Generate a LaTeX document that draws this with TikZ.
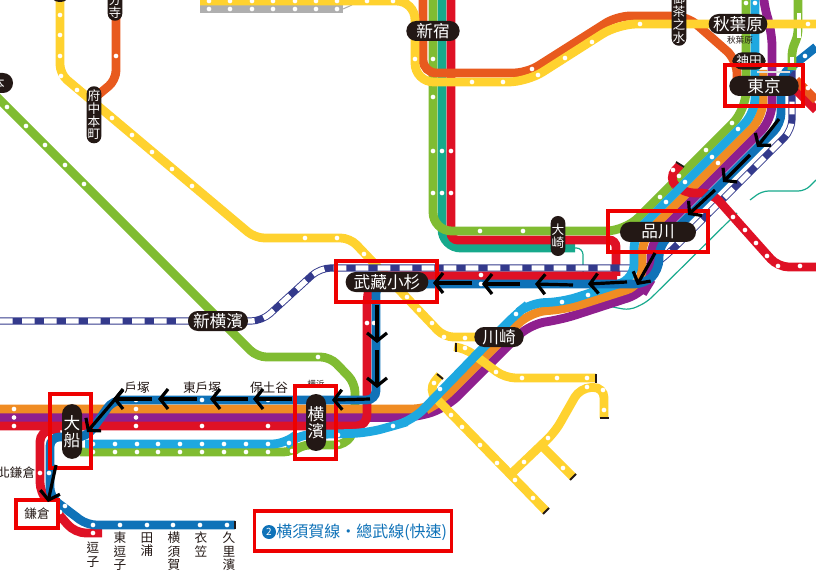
\documentclass[tikz,border=0pt]{standalone}
\usepackage{fontspec}
\setmainfont{Noto Sans CJK TC}
\usetikzlibrary{arrows.meta}
\definecolor{cpill}{HTML}{231815}
\definecolor{cgreen}{HTML}{80BC32}
\definecolor{cteal}{HTML}{17A98C}
\definecolor{cred}{HTML}{DF1125}
\definecolor{cyel}{HTML}{FFD22F}
\definecolor{coro}{HTML}{E85A1E}
\definecolor{corg}{HTML}{F08C23}
\definecolor{cpur}{HTML}{8F1F8E}
\definecolor{cblu}{HTML}{0F72B8}
\definecolor{clb}{HTML}{1FA8E0}
\definecolor{cnav}{HTML}{343A8C}
\definecolor{cgry}{HTML}{AFAFAF}
\definecolor{cbox}{HTML}{EE0000}
\newcommand{\fs}[1]{\fontsize{#1}{#1}\selectfont}
\newcommand{\fsb}[2]{\fontsize{#1}{#2}\selectfont}
\tikzset{
 rail/.style={line width=6.6pt,rounded corners=7pt},
 thinrail/.style={line width=0.9pt,draw=cteal,rounded corners=5pt},
 pill/.style={fill=cpill,text=white,rounded corners=7.4pt,inner sep=0pt,align=center},
 hpill/.style={pill,minimum height=15pt,font=\fs{12.5}},
 vpill/.style={pill,font=\fsb{12.5}{13}},
 vpills/.style={pill,minimum width=11pt,rounded corners=5.4pt,font=\fsb{9.5}{9.6}},
 lab/.style={text=cpill,inner sep=0pt,font=\fs{9.5}},
 vlab/.style={text=cpill,inner sep=0pt,align=center,font=\fsb{9.5}{10},anchor=north},
 redbox/.style={draw=cbox,line width=2.4pt},
 route/.style={draw=black,line width=2.4pt,-{Straight Barb[length=6pt,width=15pt,line width=2.4pt]}},
 capb/.style={draw=cpill,line width=1.4pt},
}
\newcommand{\wdots}[1]{\foreach \p in {#1}{\fill[white] \p circle (1.75pt);}}
\begin{document}
\begin{tikzpicture}[x=0.75pt,y=-0.75pt]
\useasboundingbox (0,0) rectangle (816,573);
% thin teal
\draw[thinrail] (573,248) -- (583,248) -- (583,277) -- (600,304) -- (617,308) -- (630,310) -- (647,302) -- (737,213);
\draw[thinrail] (750,200) -- (762,191) -- (805,191) -- (816,180);
% top gray and yellow
\draw[rail,cgry,line width=6.6pt] (200,9) -- (343,9);
\draw[cgry,line width=.8pt] (343,9) -- (352,5);
% Saikyo / teal, red, green
\draw[rail,cteal,rounded corners=14pt] (442,0) -- (442,248) -- (575,248);
\draw[rail,cred,rounded corners=5pt] (451,0) -- (451,240) -- (616,240) -- (616,276);
\draw[rail,cgreen,rounded corners=14pt] (433,0) -- (433,231) -- (625,231) -- (746,110) -- (746,0);
% Nambu etc
\draw[rail,cyel] (60,0) -- (60,74) -- (255,238) -- (350,238) -- (444,337) -- (480,337);
\draw[rail,cgreen] (-5,95) -- (257,357) -- (330,357) -- (355,383) -- (355,430) -- (345,445) -- (300,445) -- (293,452) -- (80,452);
\draw[rail,coro] (116,0) -- (116,80) -- (98,95);
% navy
\draw[line width=5.4pt,cnav,rounded corners=8pt] (0,321) -- (262,321) -- (320,268) -- (650,268) -- (668,254) -- (792,130) -- (792,70);
\draw[line width=4pt,white,dash pattern=on 9.5pt off 7pt,rounded corners=8pt] (0,321) -- (262,321) -- (320,268) -- (650,268) -- (668,254) -- (792,130) -- (792,70);
% purple, orange, red, blue trunk
\draw[rail,cpur,rounded corners=12pt] (0,417.5) -- (417,417.5) -- (447,407) -- (530,324) -- (560,320) -- (643,293) -- (651,280) -- (651,241) -- (772,120) -- (772,30) -- (763,5) -- (763,-5);
\draw[rail,corg,rounded corners=12pt] (0,409) -- (428,409) -- (440,402) -- (530,312) -- (567,309) -- (642,285) -- (642,238) -- (763,117) -- (763,70);
\draw[rail,cred,rounded corners=8pt] (0,426) -- (367,426) -- (367,295) -- (372,276) -- (617,276);
\draw[rail,cred,rounded corners=8pt] (60,429) -- (40,431) -- (40,493) -- (75,533) -- (102,533);
\draw[rail,cred,rounded corners=8pt] (680,165) -- (668,178) -- (683,193) -- (712,193) -- (778,267) -- (816,267);
\draw[rail,cred] (796,90) -- (816,110);
\draw[rail,coro] (796,80) -- (816,100);
% yellow lower group
\draw[rail,cyel,rounded corners=8pt] (456,347) -- (465,348) -- (505,378) -- (596,378);
\draw[rail,cyel,rounded corners=8pt] (440,375) -- (428,390) -- (546,511);
\draw[rail,cyel,rounded corners=8pt] (512,473) -- (555,432) -- (580,388) -- (604,387) -- (604,418);
\draw[rail,cyel] (543,447) -- (573,477);
% light blue
\draw[rail,clb,rounded corners=11pt] (85,444) -- (287,444) -- (296,435) -- (367,433) -- (393,426) -- (413,420) -- (516,314) -- (530,303) -- (562,302) -- (634,279) -- (634,234) -- (755,113) -- (755,-5);
% blue
\draw[rail,cblu,rounded corners=8pt] (392,284) -- (645,284) -- (659,270) -- (659,246) -- (781,124) -- (781,75) -- (816,47);
\draw[rail,cblu,rounded corners=7pt] (400,284) -- (376,284) -- (376,400) -- (113,400) -- (87,437) -- (50,437) -- (50,497) -- (87,525) -- (235,525);
% top-side green with its white bars
\draw[rail,cgreen,rounded corners=4pt] (798,-5) -- (798,35) -- (792,50) -- (792,70);
\draw[white,line width=2.4pt] (799,13) -- (799,38);
\draw[white,line width=2.4pt] (792,57) -- (792,67);
\draw[cgry!40,line width=2pt] (757,72) -- (790,72);
% chuo
\draw[rail,coro,rounded corners=10pt] (423,-5) -- (423,73) -- (527,73) -- (617,16) -- (687,16) -- (737,60) -- (737,80);
\draw[rail,cyel,rounded corners=14pt] (200,1) -- (415,1) -- (415,82) -- (527,82) -- (618,24) -- (816,24);
% caps
\draw[capb] (235,521) -- (235,529);
\draw[capb] (676,162) -- (684,167);
\draw[capb] (437,374) -- (443,379);
\draw[capb] (456,343) -- (456,352);
\draw[capb] (596,374) -- (596,383);
\draw[capb] (600,418) -- (609,418);
\draw[capb] (543,514) -- (549,508);
\draw[capb] (570,480) -- (576,474);
% dots
\wdots{(209,1),(230,1),(252,1),(273,1),(295,1),(316,1),(337,1),(367,1),(393,1),(209,9),(230,9),(252,9),(273,9),(295,9),(316,9),(337,9)}
\wdots{(60,15),(60,35),(60,56),(61,76),(77,90),(112,118),(132,135),(152,152),(172,169),(192,186),(305,238),(337,238),(364,254),(407,297),(419,310),(432,323),(444,337),(465,338),(465,348),(496,372),(522,378),(557,378),(587,378),(587,387),(603,390),(604,410),(434,383),(451,415),(462,427),(480,445),(497,463),(515,480),(533,498),(563,468),(524,462),(548,438)}
\wdots{(116,56),(7,107),(26,126),(45,145),(65,165),(84,184),(318,357)}
\wdots{(415,59),(433,59),(433,97),(433,151),(442,151),(451,151),(433,193),(442,193),(451,193),(480,231),(523,231),(472,82),(503,82),(538,75),(532,69),(565,58),(592,42),(640,24),(808,24)}
\wdots{(746,3),(755,3),(805,56),(732,123),(706,150),(679,176),(660,197),(738,129),(712,157),(685,182),(666,202),(718,163),(673,170),(733,217),(745,230),(756,243),(767,256),(778,266),(800,266),(808,88)}
\wdots{(562,302),(588,295),(516,314),(440,389),(393,426),(338,435),(338,444),(289,443),(292,451),(481,284),(481,275),(367,323),(374,323)}
\wdots{(14,409),(14,417.5),(14,426),(136,400),(136,409),(136,417.5),(136,426),(202,400),(202,426),(268,400),(268,426)}
\wdots{(93,444),(115,444),(137,444),(158,444),(180,444),(202,444),(224,444),(246,444),(268,444),(93,452),(115,452),(137,452),(158,452),(180,452),(202,452),(224,452),(246,452),(268,452)}
\wdots{(40,473),(49,473),(65,506),(60,512),(93,533),(93,525),(120,525),(147,525),(173,525),(200,525),(227,525)}
% pale station labels
\node[lab,font=\fs{6.5}] (akibasub) at (740,40) {秋葉原};
\node[lab,font=\fs{6.5}] (yokosub) at (316,384) {横浜};
% pills
\node[pill,minimum width=15pt,minimum height=15pt,rounded corners=7pt] (topa) at (60,-8) {};
\node[pill,minimum width=22.5pt,minimum height=15pt,font=\fs{10}] (moto) at (-2,83) {本};
\node[vpills,anchor=south,inner ysep=1.5pt] (koku) at (115,21) {分\\寺};
\node[vpills,text width=11pt,anchor=north,inner ysep=2.6pt] (fuchu) at (94,86) {府\\中\\本\\町};
\node[vpills,anchor=south,inner ysep=2pt] (ocha) at (679,46) {御\\茶\\之\\水};
\node[vpills,text width=11pt,minimum height=30pt] (osaki) at (558,236) {大\\崎};
\node[hpill,minimum width=40pt] (shinjuku) at (433,31) {新宿};
\node[hpill,minimum width=44pt] (akiba) at (738,24) {秋葉原};
\node[pill,minimum width=25pt,minimum height=13pt,font=\fs{9.5}] (kanda) at (749,61) {神田};
\node[redbox,minimum width=58.5pt,minimum height=30.7pt,inner sep=0,fill=none] (btok) at (764,85.5) {};
\node[hpill,minimum width=52pt] (tokyo) at (764,86) {東京};
\node[redbox,minimum width=75pt,minimum height=30.7pt,inner sep=0] (bshin) at (658,231.5) {};
\node[hpill,minimum width=57pt] (shinagawa) at (658,232) {品川};
\node[redbox,minimum width=75.7pt,minimum height=30.7pt,inner sep=0] (bmusa) at (386.5,281.5) {};
\node[hpill,minimum width=62pt] (musashi) at (387,282) {武藏小杉};
\node[hpill,minimum width=45pt] (shinyoko) at (218,321) {新横濱};
\node[hpill,minimum width=37pt] (kawasaki) at (499,337) {川崎};
\node[redbox,minimum width=30.7pt,minimum height=54.7pt,inner sep=0] (byoko) at (315.5,422.5) {};
\node[vpill,minimum width=15pt,minimum height=42.7pt] (yokohama) at (316,422.5) {横\\濱};
\node[redbox,minimum width=30.7pt,minimum height=55.5pt,inner sep=0] (bofuna) at (70.5,431) {};
\node[vpill,minimum width=15pt,minimum height=41pt] (ofuna) at (72,431.5) {大\\船};
\node[redbox,fill=white,minimum width=31.5pt,minimum height=21pt,inner sep=0,text=cpill,font=\fs{9.5}] (kama) at (37,514) {鎌倉};
% plain labels
\node[lab,fill=white,inner ysep=.5pt] (totsuka) at (137,388) {戶塚};
\node[lab] (higashi) at (202,388) {東戶塚};
\node[lab] (hodo) at (269,388) {保土谷};
\node[lab,anchor=west] (kita) at (-3,473) {北鎌倉};
\node[vlab] (zushi) at (93,542) {逗\\子};
\node[vlab] (hzushi) at (120,532) {東\\逗\\子};
\node[vlab] (taura) at (147,532) {田\\浦};
\node[vlab] (yoko) at (174,532) {横\\須\\賀};
\node[vlab] (kinu) at (201,532) {衣\\笠};
\node[vlab] (kuri) at (229,532) {久\\里\\濱};
% route arrows
\draw[route] (779,119) -- (757,147);
\draw[route] (750,155) -- (723,182);
\draw[route] (715,190) -- (688,215);
\draw[route] (655,253) -- (637,285);
\draw[route] (627,282) -- (588,284);
\draw[route] (573,285) -- (535,284);
\draw[route] (520,284) -- (482,284);
\draw[route] (472,283) -- (433,283);
\draw[route] (377,305) -- (377,343);
\draw[route] (377,350) -- (377,388);
\draw[route] (370,399) -- (332,400);
\draw[route] (292,399) -- (253,399);
\draw[route] (248,399) -- (210,399);
\draw[route] (197,399) -- (158,399);
\draw[route] (152,399) -- (113,399);
\draw[route] (123,390) -- (87,432);
\draw[route] (56,465) -- (48,502);
% legend
\node[redbox,minimum width=148pt,minimum height=30pt,inner sep=0] (legbox) at (353,531) {};
\node[circle,fill=cblu,text=white,inner sep=0,minimum size=10.5pt,font=\fs{7.5}] (legnum) at (269,532) {2};
\node[text=cblu,anchor=west,inner sep=0,font=\fs{12}] (legtext) at (276,532) {横須賀線・總武線(快速)};
\end{tikzpicture}
\end{document}
